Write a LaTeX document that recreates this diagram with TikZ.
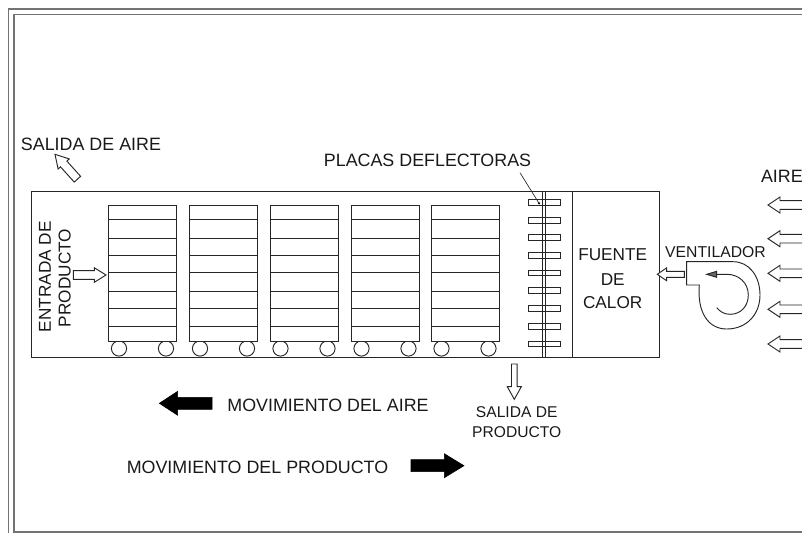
\documentclass[tikz,border=0pt]{standalone}
\usepackage{fontspec}
\setmainfont{Liberation Sans}
\newcommand{\fl}{\fontsize{13.4pt}{16pt}\selectfont}
\newcommand{\fm}{\fontsize{12.9pt}{16pt}\selectfont}
\newcommand{\fs}{\fontsize{11.7pt}{14pt}\selectfont}
\newcommand{\fv}{\fontsize{11.8pt}{14pt}\selectfont}
% block arrow: tip x, tip y, rotation, tail length, head length, shaft width, head half width
\newcommand{\blockarrow}[8][hollow]{%
  \draw[#1,shift={(#2,#3)},rotate=#4] (0,0) -- (#6,#8) -- (#6,#7/2) -- (#5,#7/2) -- (#5,-#7/2) -- (#6,-#7/2) -- (#6,-#8) -- cycle;}
\tikzset{
  x=0.75pt,y=-0.75pt,
  line/.style={draw=black!85,line width=0.7pt},
  frame/.style={draw=black!55,line width=0.9pt},
  hollow/.style={line,fill=white},
  solid/.style={draw=black,fill=black,line width=0.4pt},
  lbl/.style={inner sep=0pt,text=black!90},
}
\begin{document}
\begin{tikzpicture}
\useasboundingbox (0,0) rectangle (802,533);
% page frame
\draw[frame] (802,9) -- (8.5,9) -- (8.5,533);
\draw[frame] (802,14.5) -- (14,14.5) -- (14,532) -- (802,532);
% dryer body
\draw[line] (31,191) rectangle (659,357);
\draw[line] (572,191) -- (572,357);
% racks
\foreach \x in {108.5,189.5,270,351,431}{
  \begin{scope}
    \clip (\x-5,341) rectangle (\x+75,356.4);
    \draw[line] (\x+10.5,348.5) circle (7.6);
    \draw[line] (\x+57.5,348.5) circle (7.6);
  \end{scope}
  \draw[line] (\x,205.5) rectangle ++(68,135.5);
  \foreach \y in {219.7,238,255.3,272.7,291.3,308.3,326.7}
    \draw[line] (\x,\y) -- ++(68,0);
}
% deflector plates
\foreach \y in {202.3,220.3,237.7,255.3,273,290.7,308.7,326.3,344}
  \draw[line] (528.7,\y-2.8) rectangle (560,\y+2.8);
\draw[line] (542,191) -- (542,357);
\draw[line] (545.3,191) -- (545.3,357);
\coordinate (leaderA) at (520,172.7);
\coordinate (leaderB) at (539,203.3);
\draw[line,line width=0.5pt] (leaderA) -- (leaderB);
\fill (leaderB) circle (1.2);
% hollow arrows
\blockarrow{768}{205}{0}{36}{12}{8.6}{8}
\blockarrow{768}{238.7}{0}{36}{12}{8.6}{8}
\blockarrow{768}{273.3}{0}{36}{12}{8.6}{8}
\blockarrow{768}{309.3}{0}{36}{12}{8.6}{8}
\blockarrow{768}{344}{0}{36}{12}{8.6}{8}
\blockarrow{106}{275}{180}{32.7}{11.7}{8.6}{7.3}
\blockarrow{657.3}{274.3}{0}{27}{9.4}{6}{6.5}
\blockarrow{55}{154.3}{-48}{33.5}{13}{8.6}{7.5}
\blockarrow{514.3}{399.3}{90}{35.3}{12.6}{5.6}{7}
% solid arrows
\blockarrow[solid]{159.3}{403.3}{0}{52.7}{18.4}{12}{12}
\blockarrow[solid]{464}{465.7}{180}{53}{19.7}{12}{12}
% fan
\draw[line] (733.3,261.7) -- (686.7,261.7) -- (686.7,285) -- (699.3,285)
  .. controls (697,312) and (708,329) .. (726.7,329)
  .. controls (747,329) and (760,314) .. (760,295)
  .. controls (760,276) and (749,261.7) .. (733.3,261.7);
\draw[line] (716.7,274.3) -- (726.7,274.3)
  .. controls (739,274.3) and (748.3,283) .. (748.3,295)
  .. controls (748.3,306) and (741,314.3) .. (730,314.3)
  .. controls (724,314.3) and (720,311.5) .. (716.7,307.7);
\draw[line,fill=black!60] (706.7,274.3) -- (716.7,271.3) -- (716.7,277.3) -- cycle;
% labels
\node[lbl,anchor=base west,font=\fl] (salidaaire) at (20.7,150.7) {SALIDA DE AIRE};
\node[lbl,font=\fl] (placas) at (427.5,160) {PLACAS DEFLECTORAS};
\node[lbl,anchor=east,font=\fl] (aire) at (803,176) {AIRE};
\node[lbl,font=\fm] (fuente) at (612.7,255) {FUENTE};
\node[lbl,font=\fm] (de) at (612.7,280) {DE};
\node[lbl,font=\fm] (calor) at (612.7,303) {CALOR};
\node[lbl,font=\fv] (vent) at (715.5,252.3) {VENTILADOR};
\node[lbl,rotate=90,font=\fm] (entrada) at (45,276.7) {ENTRADA DE};
\node[lbl,rotate=90,font=\fm] (producto) at (64.7,278) {PRODUCTO};
\node[lbl,font=\fl] (movaire) at (328,405) {MOVIMIENTO DEL AIRE};
\node[lbl,font=\fl] (movprod) at (257.5,467.7) {MOVIMIENTO DEL PRODUCTO};
\node[lbl,font=\fs] (salidap) at (516.7,411.7) {SALIDA DE};
\node[lbl,font=\fs] (prodp) at (516.7,431.7) {PRODUCTO};
\end{tikzpicture}
\end{document}
